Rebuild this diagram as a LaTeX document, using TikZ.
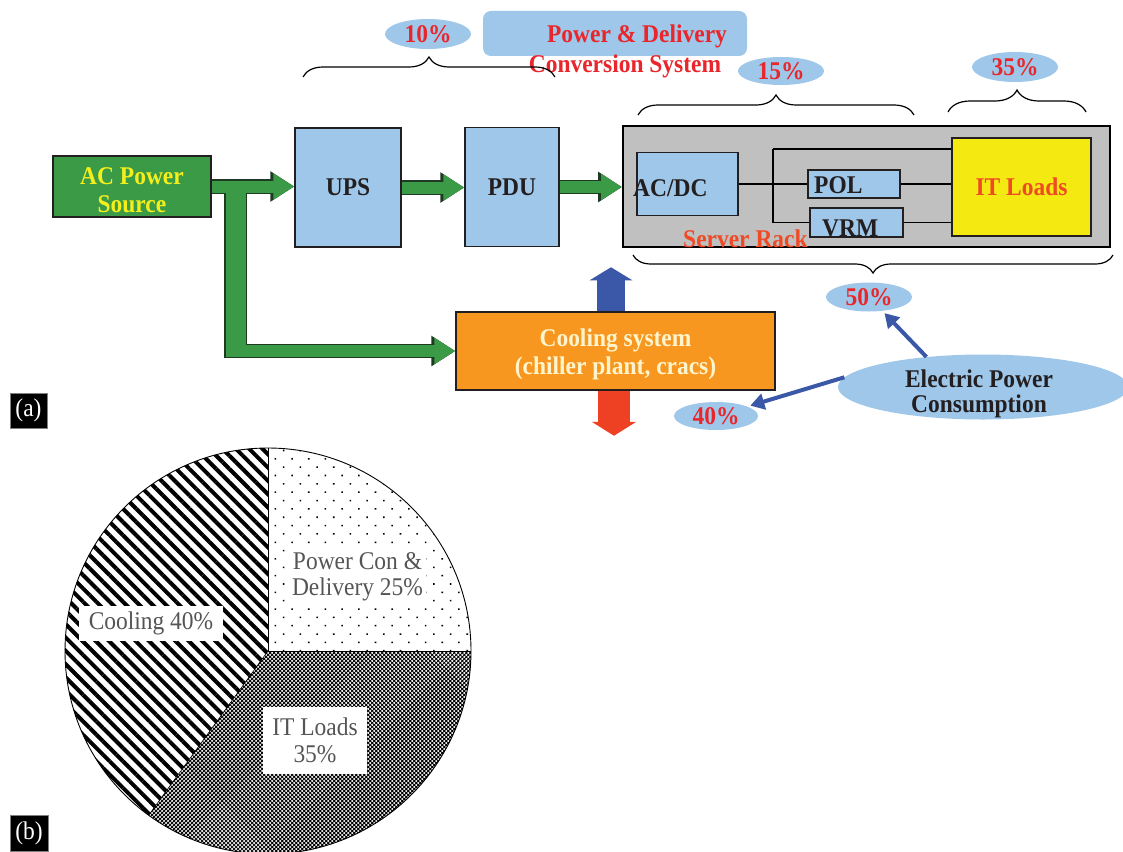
\documentclass[tikz,border=0pt]{standalone}
\usepackage{fontspec}
\setmainfont{Liberation Serif}[FakeStretch=0.92]
\usetikzlibrary{arrows.meta,shapes.geometric,decorations.pathreplacing,patterns.meta,calc}
\definecolor{gr}{HTML}{3A9A46}
\definecolor{dkg}{HTML}{1E3A22}
\definecolor{yl}{HTML}{F4EF1C}
\definecolor{lb}{HTML}{9FC7E9}
\definecolor{dk}{HTML}{231F20}
\definecolor{rk}{HTML}{C0C0C0}
\definecolor{itY}{HTML}{F5E912}
\definecolor{rd}{HTML}{E8262B}
\definecolor{ro}{HTML}{EF4A25}
\definecolor{org}{HTML}{F7971F}
\definecolor{crm}{HTML}{FFF4CC}
\definecolor{bl}{HTML}{3B57A7}
\definecolor{rdA}{HTML}{EE4124}
\definecolor{tg}{HTML}{555555}
\newcommand\mysz{\fontsize{25.5}{28}\selectfont}
\begin{document}
\begin{tikzpicture}[x=1pt,y=-1pt,
 box/.style={draw=dk,line width=1.5pt,inner sep=0pt,font=\bfseries\mysz,text=dk},
 txt/.style={inner sep=0pt,font=\bfseries\mysz,text=dk},
 pct/.style={ellipse,fill=lb,inner sep=0pt,minimum width=86,minimum height=30,font=\bfseries\mysz,text=rd},
 gdark/.style={line width=14.5pt,draw=dkg,-{Triangle[length=24pt,width=29pt]}},
 garrow/.style={line width=12pt,draw=gr,-{Triangle[length=21pt,width=25pt]}},
 brc/.style={decorate,decoration={brace,amplitude=20pt},line width=1.2pt,draw=black},
 ln/.style={line width=1.8pt,draw=black},
 thinarr/.style={line width=4pt,draw=bl,shorten >=3pt,-{Triangle[length=14pt,width=16pt]}},
 pl/.style={fill=white,text=tg,inner sep=0pt,align=center,font=\fontsize{25.5}{26}\selectfont},
 lab/.style={fill=black,draw=gray,line width=0.8pt,text=white,inner sep=0pt,font=\mysz}
]
\useasboundingbox (0,0) rectangle (1123,851);
\fill[white] (0,0) rectangle (1123,851);

% ---------- top labels ----------
\node[fill=lb,rounded corners=8pt,minimum width=264,minimum height=45,inner sep=0pt] (pdbox) at (615,33.5) {};
\node[txt,text=rd,anchor=base] (pdt1) at (637,43) {Power \& Delivery};
\node[txt,text=rd,anchor=base] (pdt2) at (625,72) {Conversion System};

\node[pct] (p10) at (428,34) {10\%};
\node[pct,minimum height=28] (p15) at (781,71) {15\%};
\node[pct] (p35) at (1015,67) {35\%};

\coordinate (b10a) at (303,77);  \coordinate (b10b) at (555,77);
\coordinate (b15a) at (638,115); \coordinate (b15b) at (914,115);
\coordinate (b35a) at (948,112); \coordinate (b35b) at (1086,112);
\coordinate (bbga) at (1113,255); \coordinate (bbgb) at (633,255);
\draw[brc] (b10a) -- (b10b);
\draw[brc] (b15a) -- (b15b);
\draw[brc,decoration={brace,amplitude=22pt}] (b35a) -- (b35b);
\draw[brc,decoration={brace,amplitude=18pt}] (bbga) -- (bbgb);

% ---------- main boxes ----------
\node[box,fill=gr,minimum width=158,minimum height=61] (ac) at (132,186.5) {};
\node[txt,text=yl,align=center] (act) at (132,190) {AC Power\\Source};
\node[box,fill=lb,minimum width=106,minimum height=119] (ups) at (348,187.5) {UPS};
\node[box,fill=lb,minimum width=94,minimum height=119] (pdu) at (512,187) {PDU};

% server rack
\node[draw=black,line width=2pt,fill=rk,minimum width=487,minimum height=121,inner sep=0pt] (rack) at (866.5,186.5) {};
\node[box,fill=lb,minimum width=101,minimum height=63] (acdc) at (687.5,184) {};
\node[box,fill=lb,minimum width=92,minimum height=28] (pol) at (854,184) {};
\node[box,fill=lb,minimum width=93,minimum height=29] (vrm) at (856.5,222.5) {};
\node[box,fill=itY,minimum width=139,minimum height=98,text=ro] (itl) at (1021.5,187) {IT Loads};
\coordinate (bt) at (773,149);
\coordinate (bb) at (773,222.5);
\draw[ln] (acdc.east) -- (pol.west);
\draw[ln] (bt) -- (bb);
\draw[ln] (bt) -- (bt -| itl.west);
\draw[ln] (bb) -- (vrm.west);
\draw[ln] (pol.east) -- (pol.east -| itl.west);
\draw[ln] (vrm.east) -- (vrm.east -| itl.west);
\node[txt,anchor=base west] (acdct) at (633,196) {AC/DC};
\node[txt,anchor=base west] (polt) at (814,193) {POL};
\node[txt,anchor=base west] (vrmt) at (822,236) {VRM};
\node[txt,text=ro,anchor=base west] (srt) at (683,247) {Server Rack};

% cooling
\node[box,fill=org,minimum width=319,minimum height=78] (cool) at (615.5,351) {};
\node[txt,text=crm,align=center] (coolt) at (615.5,354) {Cooling system\\(chiller plant, cracs)};

% ---------- green arrows ----------
\coordinate (br) at ($(ac.east)+(24,-5)$);
\coordinate (bcor) at (br |- cool.west);
\fill[dkg] ($(br)+(-11.5,0)$) rectangle ($(bcor)+(11.5,7.3)$);
\draw[gdark] (ac.east) -- (ac.east -| ups.west);
\draw[gdark] (bcor) -- (cool.west);
\draw[gdark] (ups.east) -- (ups.east -| pdu.west);
\draw[gdark] (pdu.east) -- (pdu.east -| rack.west);
\fill[gr] ($(br)+(-10,0)$) rectangle ($(bcor)+(10,6)$);
\draw[garrow] (ac.east) -- (ac.east -| ups.west);
\draw[garrow] (bcor) -- (cool.west);
\draw[garrow] (ups.east) -- (ups.east -| pdu.west);
\draw[garrow] (pdu.east) -- (pdu.east -| rack.west);

% ---------- cooling up/down arrows ----------
\coordinate (bup) at ($(cool.north)+(-4.5,-44)$);
\coordinate (rdn) at ($(cool.south)+(-1.5,45)$);
\draw[line width=28pt,draw=bl,-{Triangle[length=13pt,width=42pt]}] (cool.north -| bup) -- (bup);
\draw[line width=32pt,draw=rdA,-{Triangle[length=14pt,width=44pt]}] (cool.south -| rdn) -- (rdn);

% ---------- power consumption ----------
\node[pct,minimum width=86,minimum height=29] (p50) at (869,297) {50\%};
\node[pct,minimum width=84,minimum height=28] (p40) at (716,416) {40\%};
\node[ellipse,fill=lb,inner sep=0pt,minimum width=290,minimum height=65] (epc) at (983,387) {};
\node[txt,align=center,font=\bfseries\fontsize{25.5}{25}\selectfont] (epct) at (979,393.5) {Electric Power\\Consumption};
\draw[thinarr] (epc.152) -- (p50);
\draw[thinarr] (epc.176) -- (p40);

% ---------- labels ----------
\node[lab,minimum width=37,minimum height=35] (la) at (28.5,410.5) {(a)};

% ---------- pie ----------
\coordinate (pc) at (268,651);
\path[pattern={Dots[distance=11.8pt,radius=1.1pt,angle=45]}] (pc) -- ++(-90:203) arc[start angle=-90,end angle=0,radius=203] -- cycle;
\path[pattern={Hatch[distance=2.83pt,line width=0.85pt,angle=45]}] (pc) -- ++(0:203) arc[start angle=0,end angle=126,radius=203] -- cycle;
\path[pattern={Lines[distance=9.4pt,line width=4pt,angle=-45]}] (pc) -- ++(126:203) arc[start angle=126,end angle=270,radius=203] -- cycle;
\draw[line width=0.9pt] (pc) circle[radius=203];
\draw[line width=0.9pt] (pc) -- ++(-90:203);
\draw[line width=0.6pt] (pc) -- ++(0:203);
\draw[line width=0.6pt] (pc) -- ++(126:203);

\node[pl,inner sep=3pt] (lpc) at (357.5,576.5) {Power Con \&\\Delivery 25\%};
\node[pl,minimum width=144,minimum height=35] (lco) at (151,623.5) {Cooling 40\%};
\node[pl,minimum width=104,minimum height=67,font=\fontsize{25.5}{27}\selectfont] (lit) at (315,740.5) {IT Loads\\35\%};

\node[lab,minimum width=38,minimum height=36] (lb) at (29,833) {(b)};
\end{tikzpicture}
\end{document}
